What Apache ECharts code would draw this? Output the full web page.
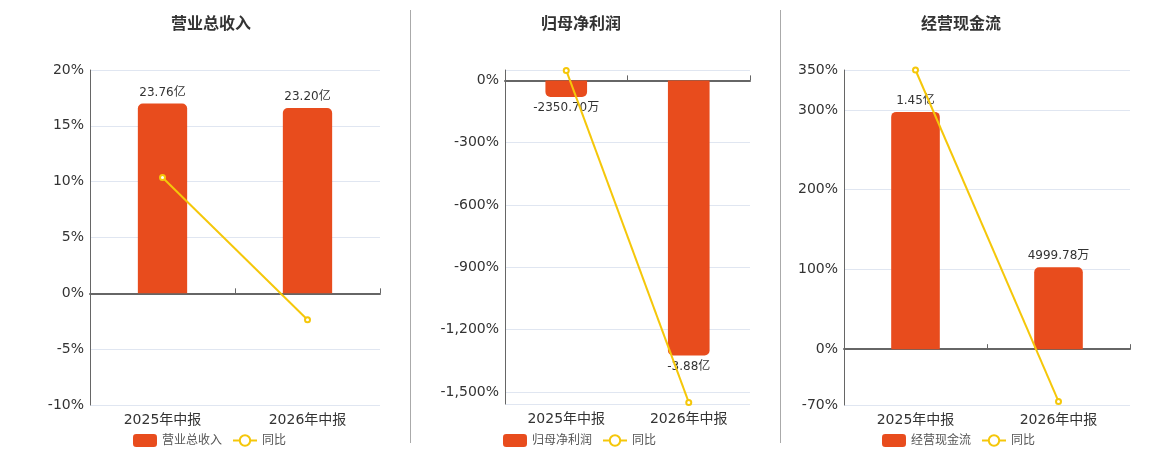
<!DOCTYPE html>
<html>
<head>
<meta charset="utf-8">
<title>财务指标</title>
<script src="https://cdn.jsdelivr.net/npm/echarts@6/dist/echarts.min.js"></script>
<style>
  html, body { margin: 0; padding: 0; background: #fff; }
  #main { width: 1160px; height: 450px; }
</style>
</head>
<body>
<div id="main"></div>
<script>
// 数据
var periods = ['2025年中报', '2026年中报'];
var titles = ['营业总收入', '归母净利润', '经营现金流'];

// 柱子数值 单位: 万元
var revenue = [237600, 232000];
var netProfit = [-2350.70, -38800];
var cashFlow = [14500, 4999.78];

// 同比 %
var revenueYoy = [10.38, -2.36];
var netProfitYoy = [48, -1550.6];
var cashFlowYoy = [350, -65.5];

// 百分比轴范围
var pctMin = [-10, -1558, -70];
var pctMax = [20, 50, 350];

var barColor = '#E84C1D';
var lineColor = '#F5C70A';
var font = 'DejaVu Sans, Noto Sans CJK SC, sans-serif';

var grids = [
  { left: 90, top: 70, width: 290, height: 335 },
  { left: 505, top: 70, width: 245, height: 334 },
  { left: 844, top: 70, width: 286, height: 335 }
];
var titleX = [206, 576, 956];
var legendX = [128, 498, 877];

function fmtMoney(v) {
  if (Math.abs(v) >= 10000) return (v / 10000).toFixed(2) + '亿';
  return v.toFixed(2) + '万';
}
function fmtPct(v) {
  var s = String(Math.round(v));
  return s.replace(/\B(?=(\d{3})+(?!\d))/g, ',') + '%';
}
// 柱子用隐藏轴, 零点和百分比轴对齐, 最大的柱子占 85%
function barRange(bars, pmin, pmax) {
  var m = 0, neg = false;
  bars.forEach(function (v) { m = Math.max(m, Math.abs(v)); if (v < 0) neg = true; });
  var side = neg ? -pmin : pmax;
  var f = m / 0.85 / side;
  return [pmin * f, pmax * f];
}

var barData = [revenue, netProfit, cashFlow];
var yoyData = [revenueYoy, netProfitYoy, cashFlowYoy];

var option = {
  animation: false,
  textStyle: { fontFamily: font },
  title: [],
  legend: [],
  grid: grids,
  xAxis: [],
  yAxis: [],
  series: [],
  graphic: [
    { type: 'line', shape: { x1: 410.5, y1: 10, x2: 410.5, y2: 443 }, style: { stroke: '#aaa', lineWidth: 1 } },
    { type: 'line', shape: { x1: 780.5, y1: 10, x2: 780.5, y2: 443 }, style: { stroke: '#aaa', lineWidth: 1 } }
  ]
};

for (var i = 0; i < 3; i++) {
  var neg = barData[i][0] < 0;
  var br = barRange(barData[i], pctMin[i], pctMax[i]);

  option.title.push({
    text: titles[i],
    left: titleX[i],
    top: 12,
    textAlign: 'center',
    textStyle: { fontSize: 16, fontWeight: 'bold', color: '#333', fontFamily: font }
  });
  option.legend.push({
    left: legendX[i],
    top: 429,
    itemWidth: 24,
    itemHeight: 13,
    itemGap: 10,
    textStyle: { fontSize: 12, color: '#555', fontFamily: font },
    data: [{ name: titles[i], icon: 'roundRect' }, '同比']
  });

  // 类目标签轴 (底部)
  option.xAxis.push({
    type: 'category',
    gridIndex: i,
    data: periods,
    position: 'bottom',
    axisLine: { show: false, onZero: false },
    axisTick: { show: false },
    axisLabel: { fontSize: 14, color: '#333', margin: 8, fontFamily: font }
  });
  // 零线
  option.xAxis.push({
    type: 'category',
    gridIndex: i,
    data: periods,
    axisLine: { show: true, onZero: true, onZeroAxisIndex: 2 * i, lineStyle: { color: '#666', width: 2 } },
    axisTick: { show: true, length: 5, lineStyle: { color: '#666' } },
    axisLabel: { show: false }
  });

  option.yAxis.push({
    type: 'value',
    gridIndex: i,
    min: pctMin[i],
    max: pctMax[i],
    interval: i === 0 ? 5 : null,
    axisLine: { show: true, lineStyle: { color: '#666' } },
    axisTick: { show: false },
    axisLabel: {
      fontSize: 14, color: '#333', margin: 6, fontFamily: font,
      showMinLabel: i !== 1, showMaxLabel: i !== 1,
      formatter: fmtPct
    },
    splitLine: { show: true, lineStyle: { color: '#E0E6F1' } }
  });
  option.yAxis.push({
    type: 'value',
    gridIndex: i,
    show: false,
    min: br[0],
    max: br[1],
    splitLine: { show: false }
  });

  option.series.push({
    name: titles[i],
    type: 'bar',
    xAxisIndex: 2 * i,
    yAxisIndex: 2 * i + 1,
    data: barData[i],
    barWidth: '34%',
    itemStyle: { color: barColor, borderRadius: neg ? [0, 0, 5, 5] : [5, 5, 0, 0] },
    label: {
      show: true,
      position: neg ? 'bottom' : 'top',
      fontSize: 12,
      color: '#333',
      fontFamily: font,
      formatter: function (p) { return fmtMoney(p.value); }
    },
    z: 2
  });
  option.series.push({
    name: '同比',
    type: 'line',
    xAxisIndex: 2 * i,
    yAxisIndex: 2 * i,
    data: yoyData[i],
    symbol: 'emptyCircle',
    symbolSize: 5,
    itemStyle: { color: lineColor },
    lineStyle: { color: lineColor, width: 2 },
    z: 3
  });
}

var myChart = echarts.init(document.getElementById('main'));
myChart.setOption(option);
</script>
</body>
</html>
